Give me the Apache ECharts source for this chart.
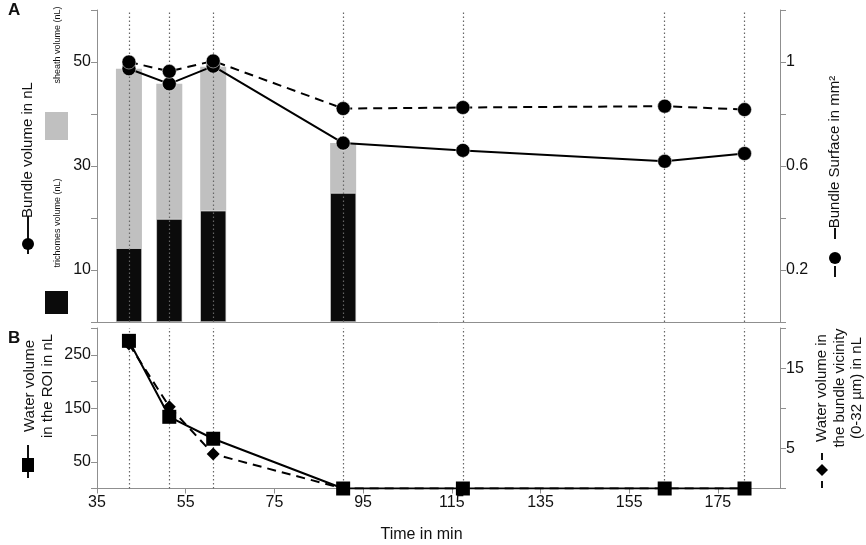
<!DOCTYPE html>
<html>
<head>
<meta charset="utf-8">
<script src="https://cdn.jsdelivr.net/npm/echarts@6/dist/echarts.min.js"></script>
<style>
  html, body { margin: 0; padding: 0; background: #fff; }
  #chart { width: 866px; height: 545px; }
</style>
</head>
<body>
<div id="chart"></div>
<script>
// sampling times (min)
const times = [42.2, 51.3, 61.2, 90.5, 117.5, 163, 181]
const barTimes = [42.2, 51.3, 61.2, 90.5]

// panel A
const trichomesVolume = [14.2, 19.8, 21.4, 24.8]
const sheathVolume = [34.5, 26.0, 27.7, 9.6]
const bundleVolume = [48.7, 45.8, 49.2, 34.4, 33.0, 30.9, 32.4]
const bundleSurface = [1.0, 0.964, 1.004, 0.821, 0.825, 0.83, 0.817]

// panel B
const waterROI = [276, 134, 93, 0, 0, 0, 0]
const waterVicinity = [18.0, 10.2, 4.3, 0, 0, 0, 0]

const xTicks = [35, 55, 75, 95, 115, 135, 155, 175]

const font = 'Liberation Sans, Arial, sans-serif'
const axisGray = '#8f8f8f'

const pairs = (xs, ys) => xs.map((x, i) => [x, ys[i]])

// gray bar is drawn as the full bundle (trichomes + sheath), black part on top of it
const bundleTotal = trichomesVolume.map((v, i) => v + sheathVolume[i])

// dotted verticals at every sampling time, on an empty helper series
const guideSeries = (xAxisIndex, yAxisIndex) => ({
  type: 'line', xAxisIndex, yAxisIndex, z: 3, data: [],
  markLine: {
    silent: true,
    symbol: 'none',
    label: { show: false },
    lineStyle: { type: [1.5, 2.5], color: '#666', width: 1.2 },
    data: times.map(t => ({ xAxis: t }))
  }
})

const yAxisBase = (gridIndex, pos, min, max, interval, showFn) => ({
  type: 'value',
  gridIndex,
  position: pos,
  min, max, interval,
  splitLine: { show: false },
  axisLine: { show: true, lineStyle: { color: axisGray, width: 1 } },
  axisTick: { show: true, length: 6, lineStyle: { color: axisGray } },
  axisLabel: {
    color: '#111', fontSize: 16, fontFamily: font, margin: 6,
    formatter: v => (showFn(v) ? String(+v.toFixed(2)) : '')
  }
})

const rotText = (x, y, text, size) => ({
  type: 'text',
  x, y,
  rotation: Math.PI / 2,
  style: {
    text, fontSize: size, fontFamily: font, fill: '#111',
    align: 'center', verticalAlign: 'middle'
  }
})

const line = (x1, y1, x2, y2) => ({
  type: 'line',
  shape: { x1, y1, x2, y2 },
  style: { stroke: '#111', lineWidth: 2 }
})

const option = {
  animation: false,
  backgroundColor: '#fff',
  grid: [
    { left: 97, right: 86, top: 10, height: 312 },
    { left: 97, right: 86, top: 328, height: 160.5 }
  ],
  xAxis: [
    {
      type: 'value', gridIndex: 0, min: 35, max: 189, interval: 20,
      axisLine: { show: true, lineStyle: { color: axisGray } },
      axisTick: { show: false }, axisLabel: { show: false }, splitLine: { show: false }
    },
    {
      type: 'value', gridIndex: 1, min: 35, max: 189, interval: 20,
      name: 'Time in min', nameLocation: 'middle', nameGap: 38,
      nameTextStyle: { color: '#111', fontSize: 16, fontFamily: font, padding: [0, 0, 0, -34] },
      axisLine: { show: true, lineStyle: { color: axisGray } },
      axisTick: { show: true, length: 5, lineStyle: { color: axisGray } },
      axisLabel: {
        color: '#111', fontSize: 16, fontFamily: font, margin: 6, showMaxLabel: false,
        formatter: v => (xTicks.includes(v) ? String(v) : '')
      },
      splitLine: { show: false }
    }
  ],
  yAxis: [
    yAxisBase(0, 'left', 0, 60, 10, v => v % 20 === 10),
    yAxisBase(0, 'right', 0, 1.2, 0.2, v => Math.round(v * 10) % 4 === 2),
    yAxisBase(1, 'left', 0, 300, 50, v => v % 100 === 50),
    yAxisBase(1, 'right', 0, 20, 5, v => v % 10 === 5)
  ],
  series: [
    {
      name: 'sheath volume (nL)', type: 'bar',
      xAxisIndex: 0, yAxisIndex: 0, barWidth: 26, barGap: '-100%', z: 1,
      itemStyle: { color: '#c0c0c0' },
      data: pairs(barTimes, bundleTotal)
    },
    {
      name: 'trichomes volume (nL)', type: 'bar',
      xAxisIndex: 0, yAxisIndex: 0, barWidth: 26, barGap: '-100%', z: 2,
      itemStyle: { color: '#0b0b0b', borderColor: '#fff', borderWidth: 0.6 },
      data: pairs(barTimes, trichomesVolume)
    },
    guideSeries(0, 0),
    guideSeries(1, 2),
    {
      name: 'Bundle volume in nL', type: 'line',
      xAxisIndex: 0, yAxisIndex: 0, z: 5,
      symbol: 'circle', symbolSize: 14,
      itemStyle: { color: '#000', borderColor: '#fff', borderWidth: 0.5 },
      lineStyle: { color: '#000', width: 2 },
      data: pairs(times, bundleVolume)
    },
    {
      name: 'Bundle Surface in mm²', type: 'line',
      xAxisIndex: 0, yAxisIndex: 1, z: 5,
      symbol: 'circle', symbolSize: 14,
      itemStyle: { color: '#000', borderColor: '#fff', borderWidth: 0.5 },
      lineStyle: { color: '#000', width: 2, type: [9, 6] },
      data: pairs(times, bundleSurface)
    },
    {
      name: 'Water volume in the bundle vicinity', type: 'line',
      xAxisIndex: 1, yAxisIndex: 3, z: 5,
      symbol: 'diamond', symbolSize: 13,
      itemStyle: { color: '#000' },
      lineStyle: { color: '#000', width: 2, type: [9, 6] },
      data: pairs(times, waterVicinity)
    },
    {
      name: 'Water volume in the ROI', type: 'line',
      xAxisIndex: 1, yAxisIndex: 2, z: 6,
      symbol: 'rect', symbolSize: 14,
      itemStyle: { color: '#000' },
      lineStyle: { color: '#000', width: 2 },
      data: pairs(times, waterROI)
    }
  ],
  graphic: [
    { type: 'text', x: 8, y: 2, style: { text: 'A', fontSize: 17, fontWeight: 'bold', fontFamily: font, fill: '#111' } },
    { type: 'text', x: 8, y: 330, style: { text: 'B', fontSize: 17, fontWeight: 'bold', fontFamily: font, fill: '#111' } },

    // panel A left title + symbol
    rotText(28, 150, 'Bundle volume in nL', 15),
    line(28, 216, 28, 254),
    { type: 'circle', shape: { cx: 28, cy: 244, r: 6 }, style: { fill: '#000' } },

    // bar legend
    rotText(58, 45, 'sheath volume (nL)', 9),
    { type: 'rect', shape: { x: 45, y: 112, width: 23, height: 28 }, style: { fill: '#c0c0c0' } },
    rotText(58, 223, 'trichomes volume (nL)', 9),
    { type: 'rect', shape: { x: 45, y: 291, width: 23, height: 23 }, style: { fill: '#0b0b0b' } },

    // panel A right title + symbol
    rotText(835, 152, 'Bundle Surface in mm²', 15),
    line(835, 228, 835, 239),
    { type: 'circle', shape: { cx: 835, cy: 258, r: 6 }, style: { fill: '#000' } },
    line(835, 266, 835, 277),

    // panel B left title + symbol
    rotText(30, 386, 'Water volume', 15),
    rotText(48, 386, 'in the ROI in nL', 15),
    line(28, 445, 28, 478),
    { type: 'rect', shape: { x: 22, y: 458, width: 12, height: 14 }, style: { fill: '#000' } },

    // panel B right title + symbol
    rotText(822, 388, 'Water volume in', 15),
    rotText(840, 388, 'the bundle vicinity', 15),
    rotText(857, 388, '(0-32 µm) in nL', 15),
    line(822, 453, 822, 460),
    { type: 'polygon', shape: { points: [[822, 464], [828, 470], [822, 476], [816, 470]] }, style: { fill: '#000' } },
    line(822, 481, 822, 488)
  ]
}

const myChart = echarts.init(document.getElementById('chart'), null, { renderer: 'canvas' })
myChart.setOption(option)
</script>
</body>
</html>
